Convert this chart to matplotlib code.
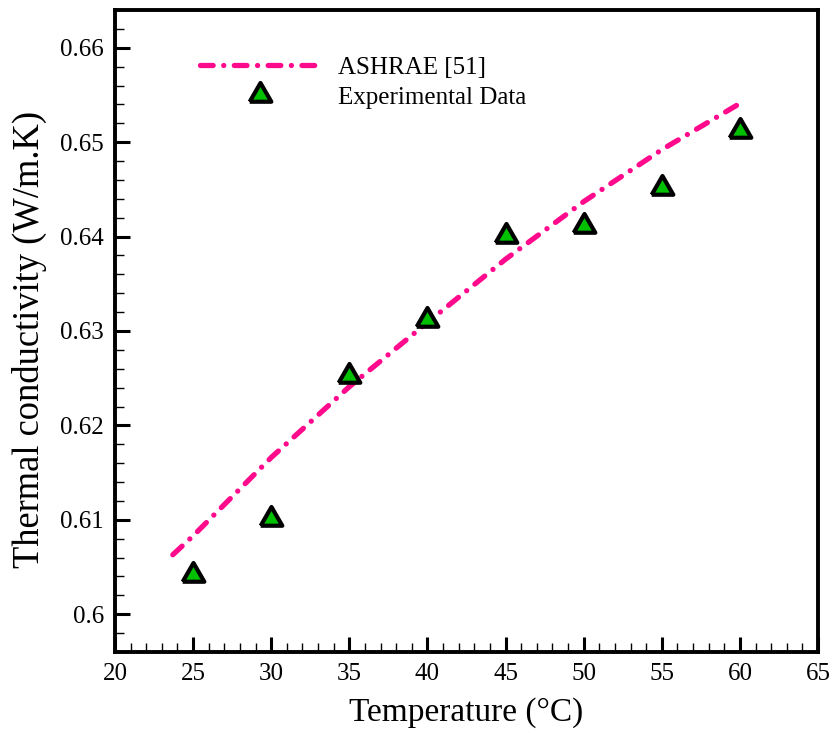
import matplotlib
matplotlib.use("Agg")
from matplotlib import pyplot as plt
from matplotlib.ticker import MultipleLocator

# ASHRAE reference curve
ashraeT = [23.7, 25, 30, 35, 40, 45, 50, 55, 60]
ashraeK = [0.6063, 0.6083, 0.6166, 0.6241, 0.6309, 0.6376, 0.6437, 0.6492, 0.6541]

# measured points
expT = [25, 30, 35, 40, 45, 50, 55, 60]
expK = [0.6042, 0.6101, 0.6252, 0.6312, 0.6401, 0.6411, 0.6451, 0.6512]

plt.rcParams["font.family"] = ["Liberation Serif", "DejaVu Serif"]

pink = "#ff0a8c"
green = "#00c000"

figure = plt.figure(figsize=(8.34, 7.33), dpi=100)
axes = figure.add_axes([0.1379, 0.1105, 0.8429, 0.8759])

(ashraeLine,) = axes.plot(
    ashraeT,
    ashraeK,
    color=pink,
    linewidth=3.8,
    dashes=(2.4, 2.0, 0.01, 2.0),
    dash_capstyle="round",
    label="ASHRAE [51]",
)

# equilateral triangle marker
tri = [(-1.0, -0.577), (1.0, -0.577), (0.0, 1.155), (-1.0, -0.577)]
(expPoints,) = axes.plot(
    expT,
    expK,
    linestyle="none",
    marker=tri,
    markersize=18,
    markerfacecolor=green,
    markeredgecolor="black",
    markeredgewidth=3.0,
    label="Experimental Data",
)

axes.set_xlim(20, 65)
axes.set_ylim(0.596, 0.664)
axes.xaxis.set_major_locator(MultipleLocator(5))
axes.xaxis.set_minor_locator(MultipleLocator(1))
axes.yaxis.set_minor_locator(MultipleLocator(0.002))
axes.set_yticks([0.6, 0.61, 0.62, 0.63, 0.64, 0.65, 0.66])
axes.set_yticklabels(["0.6", "0.61", "0.62", "0.63", "0.64", "0.65", "0.66"])

for spine in axes.spines.values():
    spine.set_linewidth(2.8)

axes.tick_params(which="major", direction="in", length=11, width=2.2, labelsize=18, pad=8)
axes.tick_params(which="minor", direction="in", length=6.5, width=1.0)
axes.tick_params(top=False, right=False, which="both")

axes.set_xlabel("Temperature (°C)", fontsize=24, labelpad=9)
axes.set_ylabel("Thermal conductivity (W/m.K)", fontsize=26.3)
axes.yaxis.set_label_coords(-0.097, 0.487)

axes.legend(
    loc="upper left",
    bbox_to_anchor=(0.121, 0.928),
    frameon=False,
    fontsize=18,
    handlelength=4.8,
    handletextpad=0.7,
    labelspacing=0.3,
    borderpad=0,
    borderaxespad=0,
    numpoints=1,
)

figure.savefig("out.png", dpi=100)
